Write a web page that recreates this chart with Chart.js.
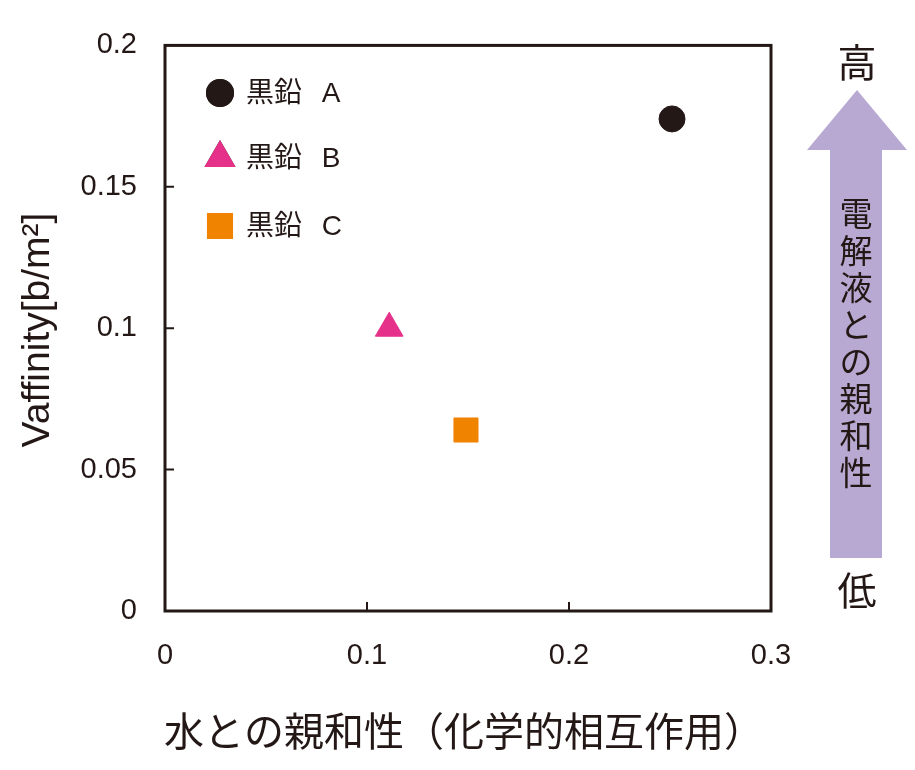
<!DOCTYPE html>
<html>
<head>
<meta charset="utf-8">
<script src="https://cdn.jsdelivr.net/npm/chart.js@4/dist/chart.umd.min.js"></script>
<style>
  body { margin: 0; background: #fff; }
  canvas { display: block; }
</style>
</head>
<body>
<canvas id="chart" width="915" height="770"></canvas>
<script>
// data
const categories = ['黒鉛 A', '黒鉛 B', '黒鉛 C'];
const waterAffinity = [0.251, 0.111, 0.149];
const vaffinity = [0.174, 0.100, 0.064];
const xTicks = [0, 0.1, 0.2, 0.3];
const yTicks = [0, 0.05, 0.1, 0.15, 0.2];
const xTickLabels = ['0', '0.1', '0.2', '0.3'];
const yTickLabels = ['0', '0.05', '0.1', '0.15', '0.2'];

const ink = '#231815';
const styles = [
  { pointStyle: 'circle', radius: 13, color: ink },
  { pointStyle: 'triangle', radius: 16, color: '#e6318a' },
  { pointStyle: 'rect', radius: 17, color: '#f08300' }
];
const numFont = '"Liberation Sans", Arial, sans-serif';
const jpFont = '"Noto Sans CJK JP", sans-serif';

let datasets = categories.map((name, i) => ({
  label: name,
  data: [{ x: waterAffinity[i], y: vaffinity[i] }],
  pointStyle: styles[i].pointStyle,
  pointRadius: styles[i].radius,
  pointHoverRadius: styles[i].radius,
  backgroundColor: styles[i].color,
  borderColor: styles[i].color,
  borderWidth: 1
}));

// frame, inward ticks, legend, titles and the arrow on the right
const decorations = {
  id: 'decorations',
  afterDraw(chart) {
    const ctx = chart.ctx;
    const a = chart.chartArea;
    const xs = chart.scales.x, ys = chart.scales.y;
    ctx.save();

    ctx.strokeStyle = ink;
    ctx.lineWidth = 3;
    ctx.strokeRect(a.left, a.top, a.right - a.left, a.bottom - a.top);

    ctx.lineWidth = 2;
    ctx.beginPath();
    xTicks.slice(1, -1).forEach(v => {
      let px = xs.getPixelForValue(v);
      ctx.moveTo(px, a.bottom);
      ctx.lineTo(px, a.bottom - 9);
    });
    yTicks.slice(1, -1).forEach(v => {
      let py = ys.getPixelForValue(v);
      ctx.moveTo(a.left, py);
      ctx.lineTo(a.left + 9, py);
    });
    ctx.stroke();

    // legend inside the plot
    const legendY = [93, 158, 226];
    chart.data.datasets.forEach((ds, i) => {
      Chart.helpers.drawPoint(ctx, {
        pointStyle: ds.pointStyle,
        radius: ds.pointRadius,
        borderWidth: 1,
        rotation: 0
      }, a.left + 55, legendY[i]);
      ctx.fillStyle = ds.backgroundColor;
      ctx.strokeStyle = ds.borderColor;
      ctx.fill();
      ctx.stroke();
      ctx.fillStyle = ink;
      ctx.font = '28px "Liberation Sans", "Noto Sans CJK JP", sans-serif';
      ctx.wordSpacing = '12px';
      ctx.textAlign = 'left';
      ctx.textBaseline = 'middle';
      ctx.fillText(ds.label, a.left + 81, legendY[i] + 1);
      ctx.wordSpacing = '0px';
    });

    // axis titles
    ctx.fillStyle = ink;
    ctx.font = '40px ' + jpFont;
    ctx.textAlign = 'center';
    ctx.textBaseline = 'middle';
    ctx.fillText('水との親和性（化学的相互作用）', 464, 731);

    ctx.save();
    ctx.translate(38, 330);
    ctx.rotate(-Math.PI / 2);
    ctx.font = '39px ' + numFont;
    ctx.fillText('Vaffinity[b/m²]', 0, 0);
    ctx.restore();

    // arrow
    ctx.fillStyle = '#b8a9d2';
    ctx.beginPath();
    ctx.moveTo(857, 90);
    ctx.lineTo(907, 150);
    ctx.lineTo(882, 150);
    ctx.lineTo(882, 558);
    ctx.lineTo(830, 558);
    ctx.lineTo(830, 150);
    ctx.lineTo(807, 150);
    ctx.closePath();
    ctx.fill();

    ctx.fillStyle = ink;
    ctx.font = '39px ' + jpFont;
    ctx.fillText('高', 857, 62);
    ctx.fillText('低', 857, 590);

    ctx.font = '33px ' + jpFont;
    const vert = '電解液との親和性';
    for (let i = 0; i < vert.length; i++) {
      ctx.fillText(vert[i], 856, 213 + i * 37);
    }
    ctx.restore();
  }
};

new Chart(document.getElementById('chart'), {
  type: 'scatter',
  data: { datasets: datasets },
  plugins: [decorations],
  options: {
    responsive: false,
    animation: false,
    layout: { padding: { top: 42, right: 144, left: 0, bottom: 0 } },
    plugins: {
      legend: { display: false },
      tooltip: { enabled: false }
    },
    scales: {
      x: {
        min: 0, max: 0.3,
        afterFit: s => { s.height = 159; },
        afterBuildTicks: s => { s.ticks = xTicks.map(v => ({ value: v })); },
        grid: { display: false, drawTicks: false },
        border: { display: false },
        ticks: {
          padding: 28,
          color: ink,
          font: { family: numFont, size: 29 },
          maxRotation: 0,
          callback: (v, i) => xTickLabels[i]
        }
      },
      y: {
        min: 0, max: 0.2,
        afterFit: s => { s.width = 165; },
        afterBuildTicks: s => { s.ticks = yTicks.map(v => ({ value: v })); },
        grid: { display: false, drawTicks: false },
        border: { display: false },
        ticks: {
          padding: 28,
          color: ink,
          font: { family: numFont, size: 29 },
          callback: (v, i) => yTickLabels[i]
        }
      }
    }
  }
});
</script>
</body>
</html>
